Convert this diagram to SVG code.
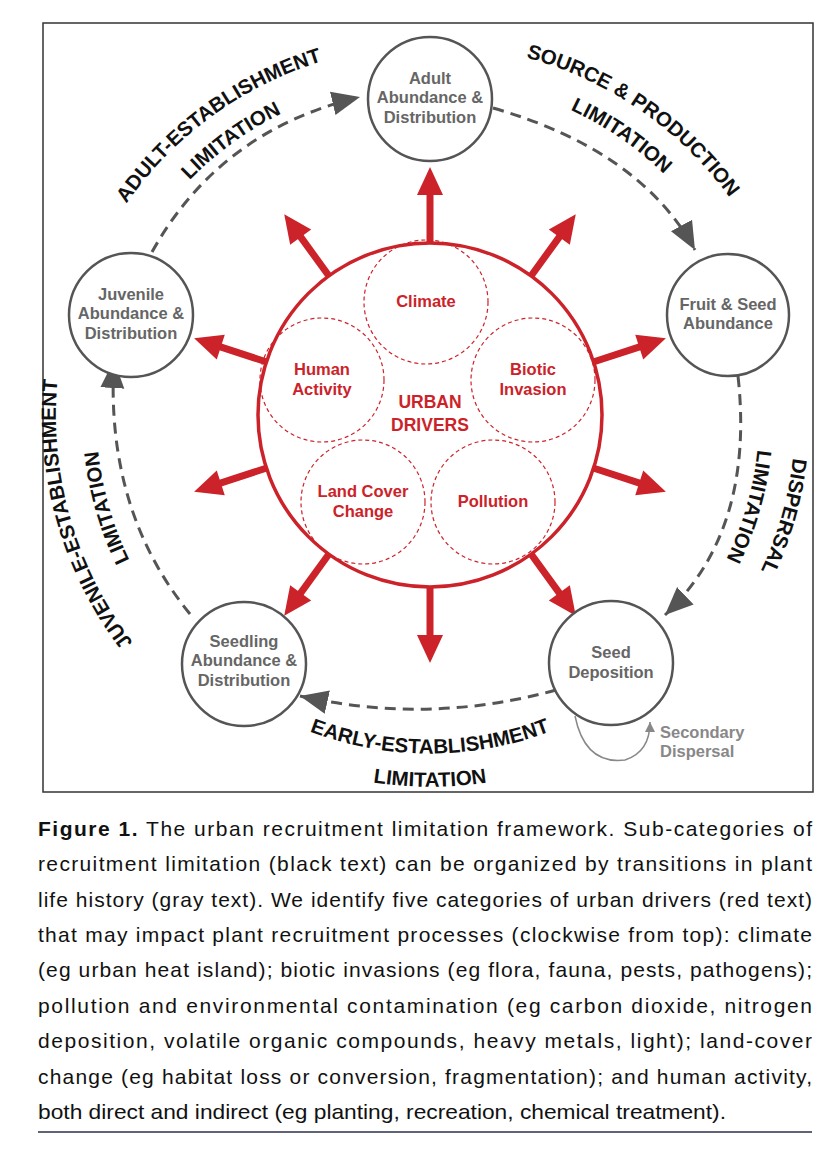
<svg xmlns="http://www.w3.org/2000/svg" width="834" height="1152" viewBox="0 0 834 1152">
<style>
.node{fill:#fff;stroke:#555;stroke-width:2.5}
.nt{font-family:"Liberation Sans",Arial,sans-serif;font-weight:bold;font-size:16.5px;fill:#666;text-anchor:middle}
.drv{fill:none;stroke:#cc2229;stroke-width:1.2;stroke-dasharray:4 3}
.dt{font-family:"Liberation Sans",Arial,sans-serif;font-weight:bold;font-size:16.5px;fill:#cc2229;text-anchor:middle}
.lab{font-family:"Liberation Sans",Arial,sans-serif;font-weight:bold;font-size:20.5px;fill:#111}
.con{fill:none;stroke:#555;stroke-width:3;stroke-dasharray:11 7}
.cap{font-family:"Liberation Sans",Arial,sans-serif;font-size:21px;fill:#111}
</style>
<defs>
<marker id="ah" markerUnits="userSpaceOnUse" markerWidth="30" markerHeight="30" viewBox="0 0 30 30" refX="28" refY="15" orient="auto"><polygon points="0,3 28,15 0,27" fill="#555"/></marker>
<marker id="ahs" markerUnits="userSpaceOnUse" markerWidth="12" markerHeight="12" viewBox="0 0 12 12" refX="10" refY="6" orient="auto"><polygon points="0,1 10,6 0,11" fill="#888"/></marker>
<path id="p1" d="M 62,454 A 370 370 0 0 1 580,77"/>
<path id="p2" d="M 96,450 A 336 336 0 0 1 567,108"/>
<path id="p3" d="M 271,81 A 370 370 0 0 1 799,444"/>
<path id="p4" d="M 285,112 A 336 336 0 0 1 765,441"/>
<path id="p5" d="M 693,161 A 366 366 0 0 1 519,770"/>
<path id="p6" d="M 667,186 A 330 330 0 0 1 510,735"/>
<path id="p7" d="M 340,778 A 374 374 0 0 1 161,155"/>
<path id="p8" d="M 349,739 A 334 334 0 0 1 190,183"/>
<path id="p9" d="M 137,584 A 338 338 0 0 0 723,584"/>
<path id="p10" d="M 108,601 A 372 372 0 0 0 752,601"/>
</defs>
<rect x="43" y="23" width="770" height="769" fill="#fff" stroke="#333" stroke-width="1.5"/>
<g id="connectors">
<path class="con" d="M 152,252 Q 220,130 360,97" marker-end="url(#ah)"/>
<path class="con" d="M 493,108 Q 640,150 695,250" marker-end="url(#ah)"/>
<path class="con" d="M 738,376 Q 755,530 665,615" marker-end="url(#ah)"/>
<path class="con" d="M 556,690 Q 430,725 300,696" marker-end="url(#ah)"/>
<path class="con" d="M 190,614 Q 105,510 114,360" marker-end="url(#ah)"/>
<path d="M 575,716 Q 585,765 625,760 Q 650,752 650,722" fill="none" stroke="#888" stroke-width="1.5" marker-end="url(#ahs)"/>
</g>
<g id="labels">
<text class="lab"><textPath href="#p1" startOffset="50%" text-anchor="middle">ADULT-ESTABLISHMENT</textPath></text>
<text class="lab"><textPath href="#p2" startOffset="50%" text-anchor="middle">LIMITATION</textPath></text>
<text class="lab"><textPath href="#p3" startOffset="50%" text-anchor="middle">SOURCE &amp; PRODUCTION</textPath></text>
<text class="lab"><textPath href="#p4" startOffset="50%" text-anchor="middle">LIMITATION</textPath></text>
<text class="lab"><textPath href="#p5" startOffset="50%" text-anchor="middle">DISPERSAL</textPath></text>
<text class="lab"><textPath href="#p6" startOffset="50%" text-anchor="middle">LIMITATION</textPath></text>
<text class="lab"><textPath href="#p7" startOffset="50%" text-anchor="middle">JUVENILE-ESTABLISHMENT</textPath></text>
<text class="lab"><textPath href="#p8" startOffset="50%" text-anchor="middle">LIMITATION</textPath></text>
<text class="lab"><textPath href="#p9" startOffset="50%" text-anchor="middle">EARLY-ESTABLISHMENT</textPath></text>
<text class="lab"><textPath href="#p10" startOffset="50%" text-anchor="middle">LIMITATION</textPath></text>
<text class="nt" x="660" y="738" style="fill:#888;text-anchor:start">Secondary</text>
<text class="nt" x="660" y="757" style="fill:#888;text-anchor:start">Dispersal</text>
</g>
<g id="drivers">
<g fill="#cc2229" stroke="#cc2229">
<g transform="translate(430,415) rotate(-90)"><line x1="170" y1="0" x2="222" y2="0" stroke-width="7"/><polygon points="248,0 220,-13 220,13" stroke="none"/></g>
<g transform="translate(430,415) rotate(-54)"><line x1="170" y1="0" x2="222" y2="0" stroke-width="7"/><polygon points="248,0 220,-13 220,13" stroke="none"/></g>
<g transform="translate(430,415) rotate(-18)"><line x1="170" y1="0" x2="222" y2="0" stroke-width="7"/><polygon points="248,0 220,-13 220,13" stroke="none"/></g>
<g transform="translate(430,415) rotate(18)"><line x1="170" y1="0" x2="222" y2="0" stroke-width="7"/><polygon points="248,0 220,-13 220,13" stroke="none"/></g>
<g transform="translate(430,415) rotate(54)"><line x1="170" y1="0" x2="222" y2="0" stroke-width="7"/><polygon points="248,0 220,-13 220,13" stroke="none"/></g>
<g transform="translate(430,415) rotate(90)"><line x1="170" y1="0" x2="222" y2="0" stroke-width="7"/><polygon points="248,0 220,-13 220,13" stroke="none"/></g>
<g transform="translate(430,415) rotate(126)"><line x1="170" y1="0" x2="222" y2="0" stroke-width="7"/><polygon points="248,0 220,-13 220,13" stroke="none"/></g>
<g transform="translate(430,415) rotate(162)"><line x1="170" y1="0" x2="222" y2="0" stroke-width="7"/><polygon points="248,0 220,-13 220,13" stroke="none"/></g>
<g transform="translate(430,415) rotate(198)"><line x1="170" y1="0" x2="222" y2="0" stroke-width="7"/><polygon points="248,0 220,-13 220,13" stroke="none"/></g>
<g transform="translate(430,415) rotate(234)"><line x1="170" y1="0" x2="222" y2="0" stroke-width="7"/><polygon points="248,0 220,-13 220,13" stroke="none"/></g>
</g>
<circle cx="430" cy="415" r="172" fill="#fff" stroke="#cc2229" stroke-width="3.5"/>
<g id="climate"><circle class="drv" cx="426" cy="302" r="62"/><text class="dt" x="426" y="307">Climate</text></g>
<g id="biotic"><circle class="drv" cx="533" cy="380" r="62"/><text class="dt" x="533" y="375">Biotic</text><text class="dt" x="533" y="395">Invasion</text></g>
<g id="pollution"><circle class="drv" cx="493" cy="502" r="62"/><text class="dt" x="493" y="507">Pollution</text></g>
<g id="landcover"><circle class="drv" cx="363" cy="502" r="62"/><text class="dt" x="363" y="497">Land Cover</text><text class="dt" x="363" y="517">Change</text></g>
<g id="human"><circle class="drv" cx="322" cy="380" r="62"/><text class="dt" x="322" y="375">Human</text><text class="dt" x="322" y="395">Activity</text></g>
<text class="dt" x="430" y="408" style="font-size:17.5px">URBAN</text>
<text class="dt" x="430" y="431" style="font-size:17.5px">DRIVERS</text>
</g>
<g id="adult"><circle class="node" cx="430" cy="99" r="62"/><text class="nt" x="430" y="84">Adult</text><text class="nt" x="430" y="103">Abundance &amp;</text><text class="nt" x="430" y="123">Distribution</text></g>
<g id="fruit"><circle class="node" cx="728" cy="315" r="61"/><text class="nt" x="728" y="310">Fruit &amp; Seed</text><text class="nt" x="728" y="329">Abundance</text></g>
<g id="seeddep"><circle class="node" cx="611" cy="663" r="62"/><text class="nt" x="611" y="658">Seed</text><text class="nt" x="611" y="678">Deposition</text></g>
<g id="seedling"><circle class="node" cx="244" cy="664" r="62"/><text class="nt" x="244" y="647">Seedling</text><text class="nt" x="244" y="666">Abundance &amp;</text><text class="nt" x="244" y="686">Distribution</text></g>
<g id="juvenile"><circle class="node" cx="131" cy="315" r="62"/><text class="nt" x="131" y="300">Juvenile</text><text class="nt" x="131" y="319">Abundance &amp;</text><text class="nt" x="131" y="339">Distribution</text></g>
<g id="caption">
<text class="cap" x="38" y="836" textLength="774" lengthAdjust="spacing"><tspan font-weight="bold">Figure 1.</tspan> The urban recruitment limitation framework. Sub-categories of</text>
<text class="cap" x="38" y="871" textLength="774" lengthAdjust="spacing">recruitment limitation (black text) can be organized by transitions in plant</text>
<text class="cap" x="38" y="907" textLength="774" lengthAdjust="spacing">life history (gray text). We identify five categories of urban drivers (red text)</text>
<text class="cap" x="38" y="942" textLength="774" lengthAdjust="spacing">that may impact plant recruitment processes (clockwise from top): climate</text>
<text class="cap" x="38" y="977" textLength="774" lengthAdjust="spacing">(eg urban heat island); biotic invasions (eg flora, fauna, pests, pathogens);</text>
<text class="cap" x="38" y="1013" textLength="774" lengthAdjust="spacing">pollution and environmental contamination (eg carbon dioxide, nitrogen</text>
<text class="cap" x="38" y="1048" textLength="774" lengthAdjust="spacing">deposition, volatile organic compounds, heavy metals, light); land-cover</text>
<text class="cap" x="38" y="1084" textLength="774" lengthAdjust="spacing">change (eg habitat loss or conversion, fragmentation); and human activity,</text>
<text class="cap" x="38" y="1119" textLength="688" lengthAdjust="spacingAndGlyphs">both direct and indirect (eg planting, recreation, chemical treatment).</text>
<line x1="38" y1="1132" x2="812" y2="1132" stroke="#2a2f4a" stroke-width="1.5"/>
</g>
</svg>
